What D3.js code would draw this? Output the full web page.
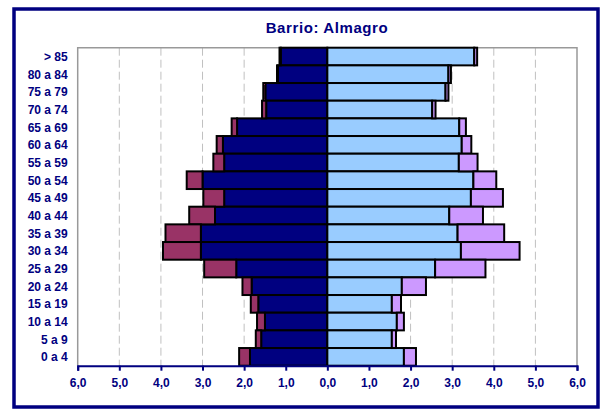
<!DOCTYPE html>
<html>
<head>
<meta charset="utf-8">
<script src="https://cdn.jsdelivr.net/npm/d3@7"></script>
<style>
  html, body { margin: 0; padding: 0; background: #fff; }
  svg { display: block; }
  text { font-family: "Liberation Sans", Arial, sans-serif; fill: #000080; }
</style>
</head>
<body>
<svg id="chart" width="605" height="409"></svg>
<script>
// ---- data (top to bottom) ----
const categories = ["> 85","80 a 84","75 a 79","70 a 74","65 a 69","60 a 64","55 a 59","50 a 54","45 a 49","40 a 44","35 a 39","30 a 34","25 a 29","20 a 24","15 a 19","10 a 14","5 a 9","0 a 4"];
const leftBase  = [1.12,1.19,1.49,1.47,2.17,2.51,2.48,3.00,2.48,2.70,3.04,3.04,2.19,1.82,1.66,1.50,1.59,1.86];
const leftExtra = [0.03,0.02,0.05,0.10,0.13,0.15,0.26,0.38,0.50,0.62,0.85,0.91,0.77,0.22,0.18,0.19,0.13,0.26];
const rightBase  = [3.53,2.91,2.84,2.52,3.17,3.23,3.16,3.51,3.45,2.93,3.13,3.21,2.59,1.79,1.55,1.67,1.55,1.84];
const rightExtra = [0.07,0.06,0.07,0.08,0.16,0.23,0.45,0.55,0.77,0.81,1.12,1.41,1.21,0.58,0.22,0.17,0.10,0.29];
const tickValues = [-6,-5,-4,-3,-2,-1,0,1,2,3,4,5,6];
const title = "Barrio: Almagro";

const colors = { leftBase: "#000080", leftExtra: "#993366", rightBase: "#99CCFF", rightExtra: "#CC99FF" };

const svg = d3.select("#chart");
const plot = { left: 77.7, right: 577, top: 47.7, bottom: 365.7 };

// outer border
svg.append("rect").attr("x", 14).attr("y", 9).attr("width", 584).attr("height", 398)
  .attr("fill", "#fff").attr("stroke", "#000080").attr("stroke-width", 3.5);

const x = d3.scaleLinear().domain([-6, 6]).range([plot.left, plot.right]);
const y = d3.scaleBand().domain(categories).range([plot.top, plot.bottom]).padding(0);

// gridlines
svg.append("g").selectAll("line").data(tickValues.filter(v => Math.abs(v) < 6 && v !== 0)).join("line")
  .attr("x1", d => x(d)).attr("x2", d => x(d))
  .attr("y1", plot.top).attr("y2", plot.bottom)
  .attr("stroke", "#c0c0c0").attr("stroke-width", 1).attr("stroke-dasharray", "8,4");

// plot frame (gray)
svg.append("path")
  .attr("d", `M${plot.left},${plot.bottom}V${plot.top}H${plot.right}V${plot.bottom}`)
  .attr("fill", "none").attr("stroke", "#999999").attr("stroke-width", 1.5);

const rows = categories.map((c, i) => ({ c, lb: leftBase[i], le: leftExtra[i], rb: rightBase[i], re: rightExtra[i] }));
const bars = svg.append("g").attr("stroke", "#000").attr("stroke-width", 2);

// left base
bars.selectAll(".lb").data(rows).join("rect").attr("class", "lb")
  .attr("x", d => x(-d.lb)).attr("width", d => x(0) - x(-d.lb))
  .attr("y", d => y(d.c)).attr("height", y.bandwidth()).attr("fill", colors.leftBase);
// left extra
bars.selectAll(".le").data(rows).join("rect").attr("class", "le")
  .attr("x", d => x(-(d.lb + d.le))).attr("width", d => x(-d.lb) - x(-(d.lb + d.le)))
  .attr("y", d => y(d.c)).attr("height", y.bandwidth()).attr("fill", colors.leftExtra);
// right base
bars.selectAll(".rb").data(rows).join("rect").attr("class", "rb")
  .attr("x", x(0)).attr("width", d => x(d.rb) - x(0))
  .attr("y", d => y(d.c)).attr("height", y.bandwidth()).attr("fill", colors.rightBase);
// right extra
bars.selectAll(".re").data(rows).join("rect").attr("class", "re")
  .attr("x", d => x(d.rb)).attr("width", d => x(d.rb + d.re) - x(d.rb))
  .attr("y", d => y(d.c)).attr("height", y.bandwidth()).attr("fill", colors.rightExtra);

// x axis
const xAxis = d3.axisBottom(x).tickValues(tickValues).tickSize(5).tickPadding(8)
  .tickFormat(d => Math.abs(d).toFixed(1).replace(".", ","));
const gx = svg.append("g").attr("transform", `translate(0,${plot.bottom})`).call(xAxis);
gx.select(".domain").attr("stroke", "#000080").attr("stroke-width", 2);
gx.selectAll(".tick line").attr("stroke", "#000080").attr("stroke-width", 2);
gx.selectAll(".tick text").attr("font-size", "12px").attr("fill", "#000080").attr("font-weight", "bold")
  .attr("font-family", "Liberation Sans, Arial, sans-serif");

// y labels
svg.append("g").selectAll("text").data(categories).join("text")
  .attr("x", 67.7).attr("y", d => y(d) + y.bandwidth() / 2)
  .attr("dy", "0.36em").attr("text-anchor", "end").attr("font-size", "12px").attr("font-weight", "bold")
  .text(d => d);

// title
svg.append("text").attr("x", 327).attr("y", 33.3).attr("text-anchor", "middle")
  .attr("font-size", "15px").attr("font-weight", "bold").attr("letter-spacing", "0.6px")
  .text(title);
</script>
</body>
</html>
